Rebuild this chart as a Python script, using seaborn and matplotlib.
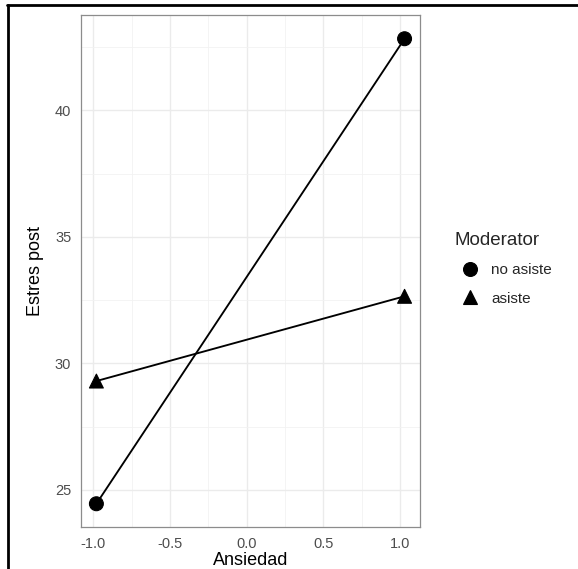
import pandas as pd
import matplotlib.pyplot as plt
import seaborn as sns
from matplotlib.lines import Line2D

# values
ansiedad = [-0.98, 1.03]
moderator = ['no asiste', 'asiste']
estres_no_asiste = [24.45, 42.83]
estres_asiste = [29.3, 32.65]

df = pd.DataFrame({
    'Ansiedad': ansiedad * 2,
    'Estres post': estres_no_asiste + estres_asiste,
    'Moderator': [moderator[0]] * 2 + [moderator[1]] * 2,
})

sns.set_style('white')
plt.rcParams['font.family'] = ['Liberation Sans', 'DejaVu Sans']

fig = plt.figure(figsize=(5.78, 5.69), dpi=100)
ax = fig.add_axes([0.1401, 0.0738, 0.5865, 0.899])

# lines (one per moderator level), then markers on top
sns.lineplot(data=df, x='Ansiedad', y='Estres post', style='Moderator',
             dashes=False, color='black', linewidth=1.35, legend=False,
             ax=ax, zorder=3)
sns.scatterplot(data=df, x='Ansiedad', y='Estres post', style='Moderator',
                markers={'no asiste': 'o', 'asiste': '^'}, color='black',
                s=100, edgecolor='black', ax=ax, zorder=4)

# ggplot-like scales (5% expansion)
xr = max(ansiedad) - min(ansiedad)
ax.set_xlim(min(ansiedad) - 0.05 * xr, max(ansiedad) + 0.05 * xr)
yall = estres_no_asiste + estres_asiste
yr = max(yall) - min(yall)
ax.set_ylim(min(yall) - 0.05 * yr, max(yall) + 0.05 * yr)

ax.set_xticks([-1.0, -0.5, 0.0, 0.5, 1.0])
ax.set_xticklabels(['-1.0', '-0.5', '0.0', '0.5', '1.0'])
ax.set_yticks([25, 30, 35, 40])
ax.set_xticks([-0.75, -0.25, 0.25, 0.75], minor=True)
ax.set_yticks([27.5, 32.5, 37.5, 42.5], minor=True)

ax.grid(True, which='major', color='#EBEBEB', linewidth=1.0)
ax.grid(True, which='minor', color='#F2F2F2', linewidth=0.6)
ax.set_axisbelow(True)

for sp in ax.spines.values():
    sp.set_color('#8C8C8C')
    sp.set_linewidth(0.9)

ax.tick_params(axis='both', which='major', length=3, width=0.8, color='#555555',
               labelcolor='#4D4D4D', labelsize=10.5, pad=4)
ax.tick_params(axis='both', which='minor', length=0)

ax.set_xlabel('Ansiedad', size=13, color='black', labelpad=1)
ax.set_ylabel('Estres post', size=13, color='black', labelpad=8)

leg = ax.legend(title='Moderator', loc='upper left', bbox_to_anchor=(0.763, 0.617),
                bbox_transform=fig.transFigure, frameon=False, fontsize=11,
                title_fontsize=13.5, labelspacing=0.95, handletextpad=0.4,
                markerscale=1.0, alignment='left')

# cropped screenshot frame (top and left edges)
fig.add_artist(Line2D([0.012, 1.0], [0.991, 0.991], transform=fig.transFigure,
                      color='black', linewidth=2))
fig.add_artist(Line2D([0.014, 0.014], [0.0, 0.991], transform=fig.transFigure,
                      color='black', linewidth=2))

plt.savefig('out.png', dpi=100)
